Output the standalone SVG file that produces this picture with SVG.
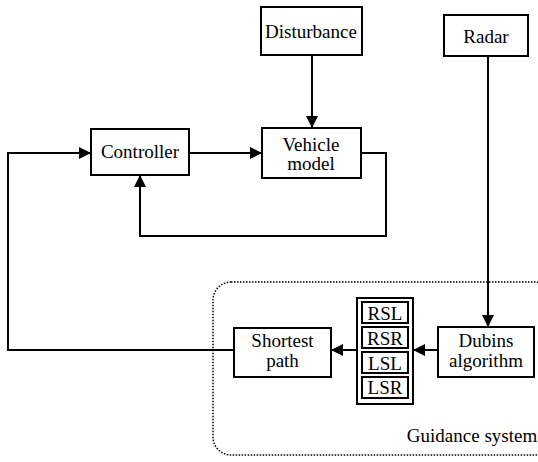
<svg xmlns="http://www.w3.org/2000/svg" width="538" height="462" viewBox="0 0 538 462">
<style>
.box{fill:#fff;stroke:#000;stroke-width:2}
.t{font-family:'Liberation Serif','Times New Roman','DejaVu Serif',serif;font-size:19px;fill:#000;text-anchor:middle}
.c{fill:none;stroke:#000;stroke-width:2}
</style>
<defs>
<marker id="ah" markerWidth="12" markerHeight="12" viewBox="0 0 12 12" refX="12" refY="6" orient="auto" markerUnits="userSpaceOnUse">
<path d="M0,0 L12,6 L0,12 Z" fill="#000"/>
</marker>
</defs>
<rect x="213" y="282" width="340" height="173" rx="18" fill="none" stroke="#000" stroke-width="1.5" stroke-dasharray="1.5,1.5"/>
<text class="t" x="472" y="442" font-family="Liberation Serif, serif">Guidance system</text>
<g id="connectors">
<path class="c" d="M312,55 V128" marker-end="url(#ah)"/>
<path class="c" d="M189,153 H262" marker-end="url(#ah)"/>
<path class="c" d="M361,153 H386 V236 H140 V175" marker-end="url(#ah)"/>
<path class="c" d="M488,56 V327" marker-end="url(#ah)"/>
<path class="c" d="M438,350 H413" marker-end="url(#ah)"/>
<path class="c" d="M357,350 H331" marker-end="url(#ah)"/>
<path class="c" d="M234,350 H8 V153 H91" marker-end="url(#ah)"/>
</g>
<g id="disturbance"><rect class="box" x="261" y="7" width="101" height="48"/><text class="t" x="311" y="38">Disturbance</text></g>
<g id="radar"><rect class="box" x="444" y="15" width="84" height="41"/><text class="t" x="486" y="43">Radar</text></g>
<g id="controller"><rect class="box" x="91" y="129" width="98" height="46"/><text class="t" x="140" y="158">Controller</text></g>
<g id="vehicle"><rect class="box" x="262" y="128" width="99" height="50"/><text class="t" x="311" y="151">Vehicle</text><text class="t" x="311" y="170">model</text></g>
<g id="shortest"><rect class="box" x="234" y="328" width="97" height="49"/><text class="t" x="282.5" y="347">Shortest</text><text class="t" x="282.5" y="367">path</text></g>
<g id="dubins"><rect class="box" x="438" y="327" width="96" height="50"/><text class="t" x="486" y="347">Dubins</text><text class="t" x="486" y="367">algorithm</text></g>
<g id="paths">
<rect class="box" x="357" y="298" width="56" height="106"/>
<rect class="box" x="362" y="302" width="46" height="21"/><text class="t" x="385" y="320">RSL</text>
<rect class="box" x="362" y="327" width="46" height="21"/><text class="t" x="385" y="345">RSR</text>
<rect class="box" x="362" y="352" width="46" height="21"/><text class="t" x="385" y="370">LSL</text>
<rect class="box" x="362" y="377" width="46" height="21"/><text class="t" x="385" y="394">LSR</text>
</g>
</svg>
